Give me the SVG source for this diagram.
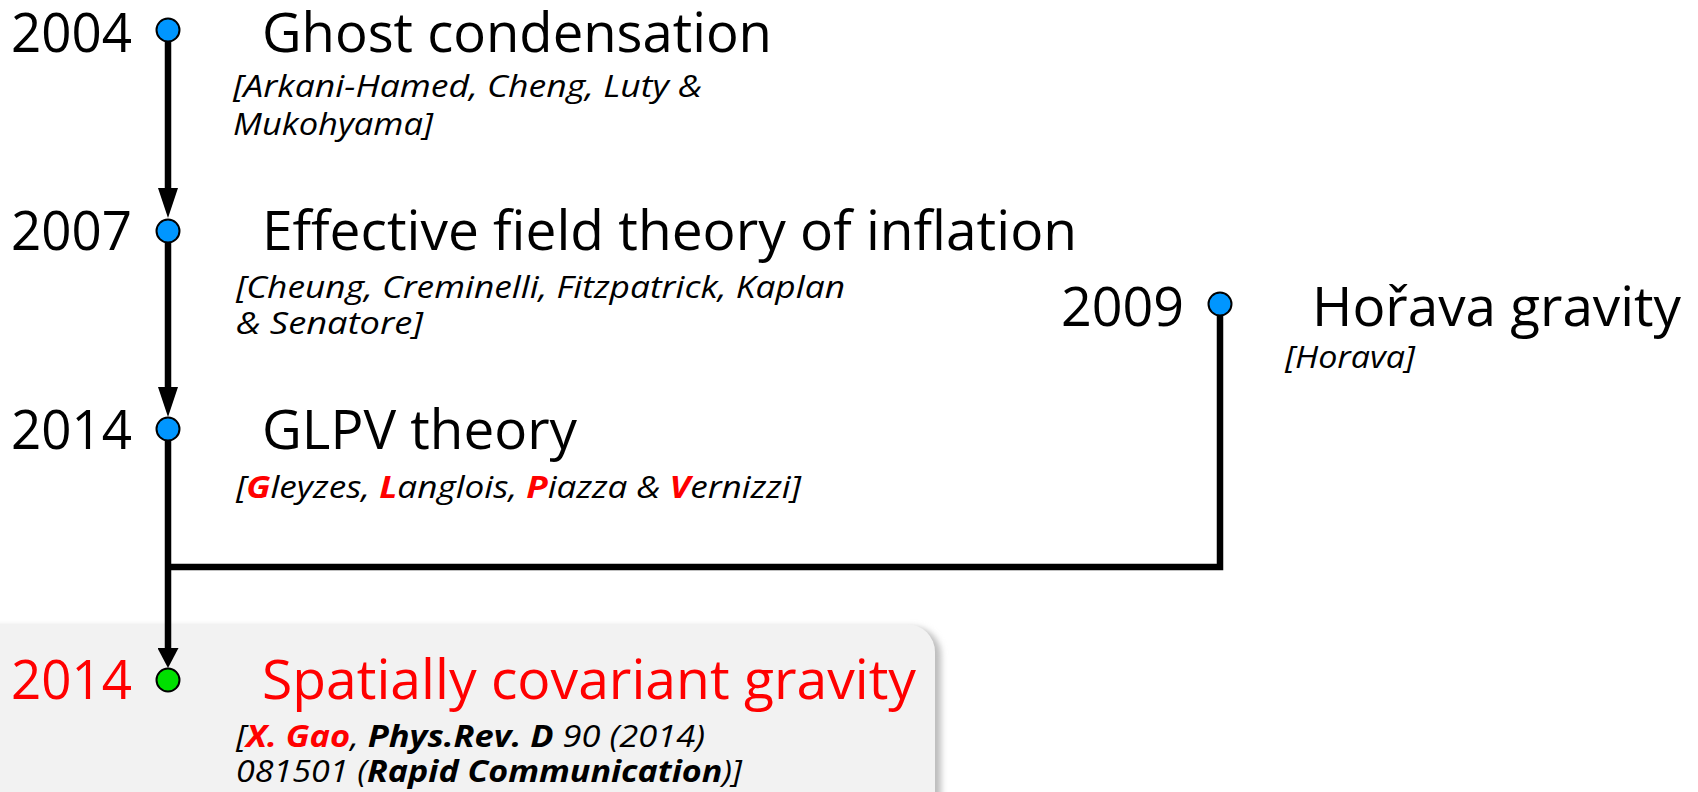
<svg xmlns="http://www.w3.org/2000/svg" width="1698" height="792" viewBox="0 0 1698 792">
<style>
.yr{font-family:"Open Sans","Noto Sans",sans-serif;font-size:54px;fill:#000}
.ttl{font-family:"Open Sans","Noto Sans",sans-serif;font-size:54px;fill:#000}
.ref{font-family:"Open Sans","Noto Sans",sans-serif;font-size:31px;font-style:italic;fill:#000}
.red{fill:#ff0000}
.b{font-weight:bold}
.dot{fill:#0096ff;stroke:#000;stroke-width:2}
.gdot{fill:#00e000;stroke:#000;stroke-width:2}
.ln{stroke:#000;stroke-width:6.5;fill:none}
</style>
<defs>
<marker id="ahl" markerWidth="30" markerHeight="20" refX="0" refY="10" orient="auto" markerUnits="userSpaceOnUse" viewBox="0 0 30 20">
<path d="M0,0 L30,10 L0,20 Z" fill="#000"/>
</marker>
<marker id="ahs" markerWidth="20" markerHeight="21" refX="0" refY="10.5" orient="auto" markerUnits="userSpaceOnUse" viewBox="0 0 20 21">
<path d="M0,0 L20,10.5 L0,21 Z" fill="#000"/>
</marker>
<filter id="sh" x="-5%" y="-20%" width="110%" height="140%">
<feGaussianBlur stdDeviation="3"/>
</filter>
</defs>
<g id="highlight-box">
<rect x="-40" y="627" width="981" height="220" rx="28" fill="#bdbdbd" filter="url(#sh)"/>
<rect x="-40" y="624" width="975" height="220" rx="28" fill="#f2f2f2"/>
</g>
<g id="connectors">
<line class="ln" x1="168" y1="40" x2="168" y2="188" marker-end="url(#ahl)"/>
<line class="ln" x1="168" y1="240" x2="168" y2="387" marker-end="url(#ahl)"/>
<line class="ln" x1="168" y1="439" x2="168" y2="648" marker-end="url(#ahs)"/>
<polyline class="ln" points="1220,314 1220,567 168,567"/>
</g>
<g id="node-2004">
<text class="yr" x="11" y="52" textLength="121" lengthAdjust="spacingAndGlyphs">2004</text>
<circle class="dot" cx="168" cy="30" r="11.5"/>
<text class="ttl" x="262" y="52" textLength="510" lengthAdjust="spacingAndGlyphs">Ghost condensation</text>
<text class="ref" x="233" y="97" textLength="469" lengthAdjust="spacingAndGlyphs">[Arkani-Hamed, Cheng, Luty &amp;</text>
<text class="ref" x="233" y="135" textLength="200" lengthAdjust="spacingAndGlyphs">Mukohyama]</text>
</g>
<g id="node-2007">
<text class="yr" x="11" y="250" textLength="121" lengthAdjust="spacingAndGlyphs">2007</text>
<circle class="dot" cx="168" cy="231" r="11.5"/>
<text class="ttl" x="262" y="250" textLength="815" lengthAdjust="spacingAndGlyphs">Effective field theory of inflation</text>
<text class="ref" x="236" y="298" textLength="609" lengthAdjust="spacingAndGlyphs">[Cheung, Creminelli, Fitzpatrick, Kaplan</text>
<text class="ref" x="236" y="334" textLength="187" lengthAdjust="spacingAndGlyphs">&amp; Senatore]</text>
</g>
<g id="node-2014-glpv">
<text class="yr" x="11" y="449" textLength="121" lengthAdjust="spacingAndGlyphs">2014</text>
<circle class="dot" cx="168" cy="429" r="11.5"/>
<text class="ttl" x="262" y="449" textLength="315" lengthAdjust="spacingAndGlyphs">GLPV theory</text>
<text class="ref" x="236" y="498" textLength="565" lengthAdjust="spacingAndGlyphs">[<tspan class="red b">G</tspan>leyzes, <tspan class="red b">L</tspan>anglois, <tspan class="red b">P</tspan>iazza &amp; <tspan class="red b">V</tspan>ernizzi]</text>
</g>
<g id="node-2009">
<text class="yr" x="1061" y="326" textLength="123" lengthAdjust="spacingAndGlyphs">2009</text>
<circle class="dot" cx="1220" cy="304" r="11.5"/>
<text class="ttl" x="1312" y="326" textLength="369" lengthAdjust="spacingAndGlyphs">Hořava gravity</text>
<text class="ref" x="1285" y="368" textLength="130" lengthAdjust="spacingAndGlyphs">[Horava]</text>
</g>
<g id="node-2014-scg">
<text class="yr red" x="11" y="699" textLength="121" lengthAdjust="spacingAndGlyphs">2014</text>
<circle class="gdot" cx="168" cy="680" r="11.5"/>
<text class="ttl red" x="262" y="699" textLength="654" lengthAdjust="spacingAndGlyphs">Spatially covariant gravity</text>
<text class="ref" x="236" y="747" textLength="469" lengthAdjust="spacingAndGlyphs">[<tspan class="red b">X. Gao</tspan>, <tspan class="b">Phys.Rev. D</tspan> 90 (2014)</text>
<text class="ref" x="236" y="782" textLength="506" lengthAdjust="spacingAndGlyphs">081501 (<tspan class="b">Rapid Communication</tspan>)]</text>
</g>
</svg>
